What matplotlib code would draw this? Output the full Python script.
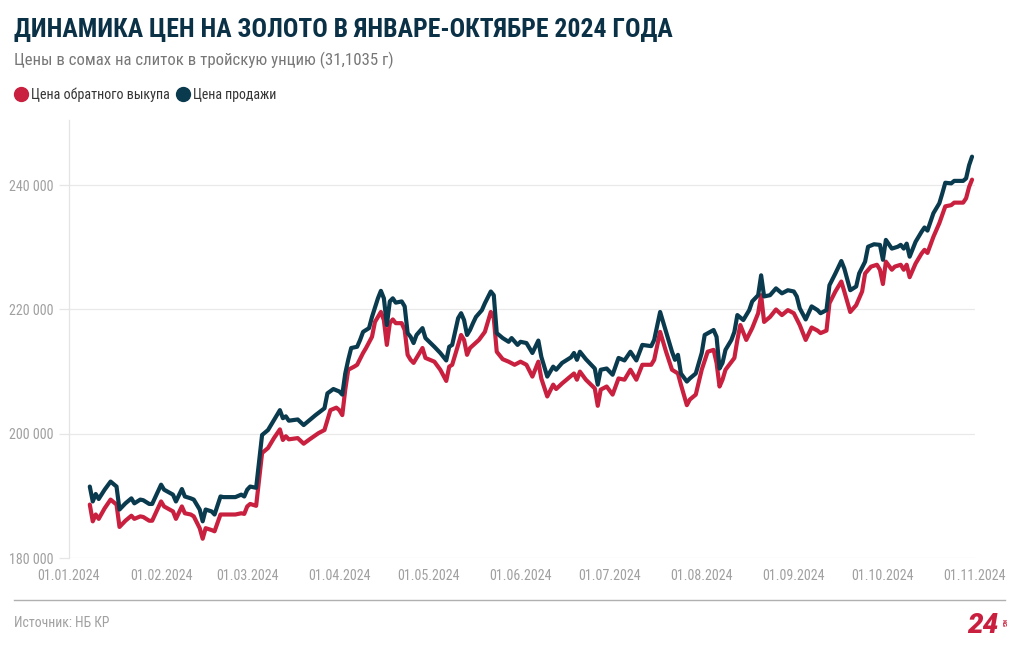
import os
import matplotlib
matplotlib.use("Agg")
import matplotlib.pyplot as plt
import matplotlib.dates as mdates
from matplotlib.ticker import FuncFormatter, FixedLocator
from matplotlib.lines import Line2D
from matplotlib import font_manager as fm
from matplotlib.font_manager import FontProperties
import pandas as pd

# ---------------- data ----------------
sell_dates = [
    "2024-01-08", "2024-01-09", "2024-01-10", "2024-01-11", "2024-01-13", "2024-01-15", "2024-01-17", "2024-01-18",
    "2024-01-20", "2024-01-22", "2024-01-23", "2024-01-25", "2024-01-26", "2024-01-28", "2024-01-29", "2024-02-01",
    "2024-02-02", "2024-02-05", "2024-02-06", "2024-02-08", "2024-02-09", "2024-02-11", "2024-02-12", "2024-02-14",
    "2024-02-15", "2024-02-16", "2024-02-18", "2024-02-19", "2024-02-21", "2024-02-22", "2024-02-26", "2024-02-28",
    "2024-02-29", "2024-03-01", "2024-03-02", "2024-03-04", "2024-03-06", "2024-03-08", "2024-03-10", "2024-03-12",
    "2024-03-13", "2024-03-14", "2024-03-15", "2024-03-18", "2024-03-20", "2024-03-22", "2024-03-24", "2024-03-27",
    "2024-03-28", "2024-03-30", "2024-04-01", "2024-04-02", "2024-04-03", "2024-04-04", "2024-04-05", "2024-04-07",
    "2024-04-08", "2024-04-09", "2024-04-11", "2024-04-12", "2024-04-14", "2024-04-15", "2024-04-16", "2024-04-17",
    "2024-04-18", "2024-04-19", "2024-04-20", "2024-04-22", "2024-04-23", "2024-04-24", "2024-04-25", "2024-04-26",
    "2024-04-27", "2024-04-29", "2024-04-30", "2024-05-03", "2024-05-05", "2024-05-07", "2024-05-08", "2024-05-09",
    "2024-05-11", "2024-05-12", "2024-05-13", "2024-05-14", "2024-05-15", "2024-05-16", "2024-05-17", "2024-05-19",
    "2024-05-20", "2024-05-22", "2024-05-23", "2024-05-24", "2024-05-26", "2024-05-28", "2024-05-29", "2024-05-31",
    "2024-06-01", "2024-06-03", "2024-06-05", "2024-06-07", "2024-06-08", "2024-06-10", "2024-06-12", "2024-06-13",
    "2024-06-15", "2024-06-18", "2024-06-19", "2024-06-20", "2024-06-21", "2024-06-23", "2024-06-26", "2024-06-27",
    "2024-06-28", "2024-06-30", "2024-07-02", "2024-07-04", "2024-07-06", "2024-07-08", "2024-07-10", "2024-07-12",
    "2024-07-15", "2024-07-16", "2024-07-18", "2024-07-20", "2024-07-22", "2024-07-23", "2024-07-24", "2024-07-25",
    "2024-07-27", "2024-07-28", "2024-07-30", "2024-08-01", "2024-08-02", "2024-08-05", "2024-08-06", "2024-08-07",
    "2024-08-08", "2024-08-09", "2024-08-11", "2024-08-12", "2024-08-13", "2024-08-15", "2024-08-17", "2024-08-18",
    "2024-08-20", "2024-08-21", "2024-08-22", "2024-08-24", "2024-08-26", "2024-08-28", "2024-08-30", "2024-09-01",
    "2024-09-02", "2024-09-03", "2024-09-05", "2024-09-07", "2024-09-09", "2024-09-10", "2024-09-12", "2024-09-13",
    "2024-09-15", "2024-09-17", "2024-09-18", "2024-09-20", "2024-09-22", "2024-09-23", "2024-09-25", "2024-09-26",
    "2024-09-28", "2024-09-30", "2024-10-01", "2024-10-02", "2024-10-04", "2024-10-06", "2024-10-07", "2024-10-08",
    "2024-10-09", "2024-10-10", "2024-10-12", "2024-10-14", "2024-10-15", "2024-10-16", "2024-10-18", "2024-10-20",
    "2024-10-21", "2024-10-22", "2024-10-24", "2024-10-25", "2024-10-28", "2024-10-29", "2024-10-30", "2024-10-31",
]
sell_values = [
    191500, 189100, 190300, 189500, 191000, 192300, 191500, 187800,
    188800, 189600, 188800, 189400, 189300, 188700, 188700, 191800,
    191000, 190200, 189100, 191100, 189900, 189600, 189400, 187800,
    185900, 187800, 187500, 187000, 189900, 189800, 189800, 190200,
    189900, 191000, 191500, 191300, 199800, 200600, 202200, 203800,
    202500, 202800, 202100, 202300, 201400, 202200, 203000, 204100,
    206500, 207200, 206800, 206300, 209700, 211900, 213800, 214000,
    215100, 216400, 217000, 218800, 221800, 223000, 221800, 217500,
    221300, 221800, 221100, 221300, 220500, 216200, 215600, 214600,
    215900, 217000, 215400, 214000, 213000, 211800, 214000, 214300,
    218600, 219400, 218300, 215900, 216700, 217800, 218800, 219900,
    221000, 222900, 222300, 216200, 215400, 214800, 215400, 214300,
    214800, 214600, 213000, 215000, 212400, 209200, 210800, 210300,
    211400, 212300, 213000, 211900, 213200, 212000, 210500, 207900,
    210300, 210500, 209500, 212200, 211800, 213200, 211800, 214300,
    214100, 215100, 219600, 216400, 213200, 211900, 212700, 209700,
    208400, 208900, 209700, 213000, 215900, 216700, 215600, 210500,
    211400, 213500, 215100, 216400, 219100, 218300, 219900, 221300,
    222300, 225500, 222100, 222300, 223400, 222600, 223100, 222900,
    222100, 220200, 218400, 220500, 219900, 219400, 219900, 223900,
    225800, 227800, 226600, 223100, 223700, 225800, 227700, 230100,
    230500, 230400, 228000, 231200, 229800, 230100, 230400, 229800,
    230600, 228500, 230900, 232500, 233200, 232700, 235500, 237100,
    238700, 240400, 240300, 240700, 240700, 241100, 243200, 244600,
]

buy_dates = [
    "2024-01-08", "2024-01-09", "2024-01-10", "2024-01-11", "2024-01-13", "2024-01-15", "2024-01-17", "2024-01-18",
    "2024-01-20", "2024-01-22", "2024-01-23", "2024-01-25", "2024-01-26", "2024-01-28", "2024-01-29", "2024-02-01",
    "2024-02-02", "2024-02-05", "2024-02-06", "2024-02-08", "2024-02-09", "2024-02-11", "2024-02-12", "2024-02-14",
    "2024-02-15", "2024-02-16", "2024-02-18", "2024-02-19", "2024-02-21", "2024-02-26", "2024-02-28", "2024-02-29",
    "2024-03-01", "2024-03-02", "2024-03-04", "2024-03-06", "2024-03-08", "2024-03-10", "2024-03-12", "2024-03-13",
    "2024-03-14", "2024-03-15", "2024-03-18", "2024-03-20", "2024-03-22", "2024-03-25", "2024-03-27", "2024-03-29",
    "2024-03-31", "2024-04-01", "2024-04-02", "2024-04-03", "2024-04-04", "2024-04-06", "2024-04-07", "2024-04-09",
    "2024-04-10", "2024-04-12", "2024-04-13", "2024-04-15", "2024-04-16", "2024-04-17", "2024-04-18", "2024-04-19",
    "2024-04-20", "2024-04-22", "2024-04-23", "2024-04-24", "2024-04-25", "2024-04-26", "2024-04-29", "2024-04-30",
    "2024-05-03", "2024-05-05", "2024-05-07", "2024-05-08", "2024-05-09", "2024-05-12", "2024-05-13", "2024-05-14",
    "2024-05-15", "2024-05-18", "2024-05-20", "2024-05-22", "2024-05-23", "2024-05-24", "2024-05-26", "2024-05-28",
    "2024-05-30", "2024-06-01", "2024-06-03", "2024-06-05", "2024-06-07", "2024-06-08", "2024-06-10", "2024-06-12",
    "2024-06-13", "2024-06-15", "2024-06-19", "2024-06-20", "2024-06-21", "2024-06-23", "2024-06-26", "2024-06-27",
    "2024-06-28", "2024-06-30", "2024-07-02", "2024-07-04", "2024-07-06", "2024-07-08", "2024-07-10", "2024-07-12",
    "2024-07-15", "2024-07-16", "2024-07-18", "2024-07-20", "2024-07-22", "2024-07-23", "2024-07-24", "2024-07-25",
    "2024-07-27", "2024-07-28", "2024-07-30", "2024-08-01", "2024-08-03", "2024-08-05", "2024-08-06", "2024-08-07",
    "2024-08-08", "2024-08-09", "2024-08-12", "2024-08-13", "2024-08-14", "2024-08-16", "2024-08-18", "2024-08-20",
    "2024-08-21", "2024-08-22", "2024-08-24", "2024-08-26", "2024-08-28", "2024-08-30", "2024-09-01", "2024-09-03",
    "2024-09-05", "2024-09-07", "2024-09-09", "2024-09-10", "2024-09-12", "2024-09-13", "2024-09-15", "2024-09-17",
    "2024-09-18", "2024-09-20", "2024-09-22", "2024-09-24", "2024-09-25", "2024-09-27", "2024-09-29", "2024-09-30",
    "2024-10-01", "2024-10-02", "2024-10-04", "2024-10-05", "2024-10-07", "2024-10-08", "2024-10-09", "2024-10-10",
    "2024-10-12", "2024-10-14", "2024-10-15", "2024-10-16", "2024-10-18", "2024-10-20", "2024-10-22", "2024-10-24",
    "2024-10-25", "2024-10-28", "2024-10-29", "2024-10-30", "2024-10-31",
]
buy_values = [
    188600, 185900, 187000, 186300, 188000, 189400, 188600, 185000,
    186000, 186800, 186300, 186700, 186600, 186000, 186000, 189100,
    188300, 187500, 186300, 188300, 187200, 187000, 186700, 184800,
    183100, 184800, 184500, 184300, 187000, 187000, 187200, 187100,
    188300, 188700, 188400, 196900, 197700, 199300, 200700, 199000,
    199600, 199100, 199300, 198400, 199100, 200100, 200600, 203800,
    204200, 203800, 203000, 207100, 210300, 210800, 211100, 213000,
    213800, 215600, 218000, 219600, 218300, 214300, 217800, 218400,
    217800, 217800, 216700, 212700, 211900, 211400, 213800, 212200,
    211600, 210300, 208500, 210800, 211100, 215900, 215100, 212700,
    213800, 215100, 216400, 219600, 218600, 213200, 212000, 211600,
    211100, 211600, 211100, 209200, 211600, 208900, 206000, 207900,
    207200, 208100, 209700, 208700, 210000, 208700, 207300, 204500,
    207100, 207600, 206300, 208900, 208700, 210300, 208700, 211100,
    211100, 211900, 216400, 213200, 210300, 210000, 209700, 207900,
    204600, 205500, 206300, 210300, 213200, 213500, 211400, 207600,
    208700, 210300, 212200, 215100, 217500, 215100, 217000, 219400,
    222300, 218000, 218800, 220000, 219100, 219900, 219400, 217500,
    215100, 217100, 216600, 216200, 216600, 221000, 222900, 224500,
    222900, 219600, 220700, 222900, 225800, 226900, 227200, 226400,
    224100, 227700, 226400, 226900, 227200, 226400, 227200, 225200,
    227400, 229000, 229600, 229100, 231700, 233900, 236600, 236800,
    237200, 237200, 237900, 239700, 240900,
]

series_labels = ["Цена обратного выкупа", "Цена продажи"]
y_ticks = [180000, 200000, 220000, 240000]
x_ticks = ["2024-01-01", "2024-02-01", "2024-03-01", "2024-04-01", "2024-05-01", "2024-06-01",
           "2024-07-01", "2024-08-01", "2024-09-01", "2024-10-01", "2024-11-01"]

title = "ДИНАМИКА ЦЕН НА ЗОЛОТО В ЯНВАРЕ-ОКТЯБРЕ 2024 ГОДА"
subtitle = "Цены в сомах на слиток в тройскую унцию (31,1035 г)"
source = "Источник: НБ КР"

# ---------------- fonts ----------------
BAD = ("italic", "oblique", "semi", "extra", "light", "medium", "black", "thin", "ultra", "demi")


def find_font(bold):
    cands = []
    for f in fm.fontManager.ttflist:
        base = os.path.basename(f.fname).lower()
        if not ("condensed" in base or "narrow" in base):
            continue
        if any(b in base for b in BAD):
            continue
        isbold = "bold" in base
        if isbold != bold:
            continue
        score = 0
        if "roboto" in base:
            score = 3
        elif "notosans" in base and "mono" not in base and "display" not in base:
            score = 2
        elif "liberation" in base or "opensans" in base:
            score = 1
        else:
            continue
        cands.append((score, f.fname))
    if cands:
        cands.sort(reverse=True)
        return cands[0][1]
    return None


reg_path = find_font(False)
bold_path = find_font(True)
BASE = "Roboto"


def fp(bold=False, size=10):
    path = bold_path if bold else reg_path
    if path:
        return FontProperties(fname=path, size=size)
    return FontProperties(family=[BASE, "DejaVu Sans"], weight="bold" if bold else "normal", size=size)


# ---------------- style ----------------
RED = "#c8203e"
DARK = "#0a3a4e"
GREY_TXT = "#a0a0a0"

W, H = 1020, 650
fig = plt.figure(figsize=(W / 100, H / 100), dpi=100)
fig.patch.set_facecolor("white")


def fx(px):
    return px / W


def fy(py):
    return 1 - py / H


ax = fig.add_axes([fx(69), fy(558), fx(975) - fx(69), (558 - 120) / H])

sd = pd.to_datetime(sell_dates)
bd = pd.to_datetime(buy_dates)
ax.plot(bd, buy_values, color=RED, lw=3.0, solid_joinstyle="round", solid_capstyle="round", zorder=3)
ax.plot(sd, sell_values, color=DARK, lw=3.0, solid_joinstyle="round", solid_capstyle="round", zorder=4)

ax.set_xlim(pd.Timestamp("2024-01-01"), pd.Timestamp("2024-11-01"))
ax.set_ylim(180000, 250500)

ax.yaxis.set_major_locator(FixedLocator(y_ticks))
ax.yaxis.set_major_formatter(FuncFormatter(lambda v, p: f"{int(v):,}".replace(",", " ")))
ax.set_xticks(pd.to_datetime(x_ticks))
ax.xaxis.set_major_formatter(mdates.DateFormatter("%d.%m.%Y"))

ax.grid(axis="y", color="#e9e9e9", lw=0.9, zorder=0)
for s in ["top", "right", "bottom"]:
    ax.spines[s].set_visible(False)
ax.spines["left"].set_color("#e4e4e4")
ax.spines["left"].set_linewidth(0.9)
ax.tick_params(axis="y", length=7, width=0.9, color="#e6e6e6", labelcolor=GREY_TXT, pad=4)
ax.tick_params(axis="x", length=0, labelcolor=GREY_TXT, pad=8)

# ---------------- texts ----------------
t_title = fig.text(fx(14), fy(37), title, fontproperties=fp(True, 20), color="#0b3147", va="baseline", ha="left")
t_sub = fig.text(fx(14), fy(65), subtitle, fontproperties=fp(False, 11.5), color="#777777", va="baseline", ha="left")

fig.add_artist(Line2D([fx(21)], [fy(94)], marker="o", markersize=10, color=RED, transform=fig.transFigure))
t_l1 = fig.text(fx(31), fy(99), series_labels[0], fontproperties=fp(False, 10), color="#333333", va="baseline", ha="left")
fig.add_artist(Line2D([fx(183)], [fy(94)], marker="o", markersize=10, color=DARK, transform=fig.transFigure))
t_l2 = fig.text(fx(193), fy(99), series_labels[1], fontproperties=fp(False, 10), color="#333333", va="baseline", ha="left")

fig.add_artist(Line2D([fx(14), fx(1005)], [fy(600), fy(600)], color="#b0b0b0", lw=1.0, transform=fig.transFigure))
t_src = fig.text(fx(14), fy(627), source, fontproperties=fp(False, 10), color=GREY_TXT, va="baseline", ha="left")

fig.text(fx(998), fy(633), "24", fontsize=20, fontweight="heavy", fontstyle="italic", color=RED,
         family=[BASE, "DejaVu Sans"], va="baseline", ha="right")
fig.text(fx(1003), fy(623), "KG", fontsize=4.5, fontweight="bold", color=RED, rotation=270,
         family=[BASE, "DejaVu Sans"], va="center", ha="center")

# fit text widths to the reference layout
renderer = fig.canvas.get_renderer()


def fit(t, target):
    w = t.get_window_extent(renderer).width
    if w > 0:
        t.set_fontsize(t.get_fontsize() * target / w)


fit(t_title, 659)
fit(t_sub, 378)
fit(t_l1, 138)
fit(t_l2, 83)
fit(t_src, 96)

for lab in ax.get_xticklabels() + ax.get_yticklabels():
    lab.set_fontproperties(fp(False, 10))
fig.canvas.draw()
xl = ax.get_xticklabels()[0]
w = xl.get_window_extent(renderer).width
ts = 10 * 62 / w if w > 0 else 9.5
for lab in ax.get_xticklabels() + ax.get_yticklabels():
    lab.set_fontproperties(fp(False, ts))
    lab.set_color(GREY_TXT)

fig.savefig("out.png", dpi=100, facecolor="white")
